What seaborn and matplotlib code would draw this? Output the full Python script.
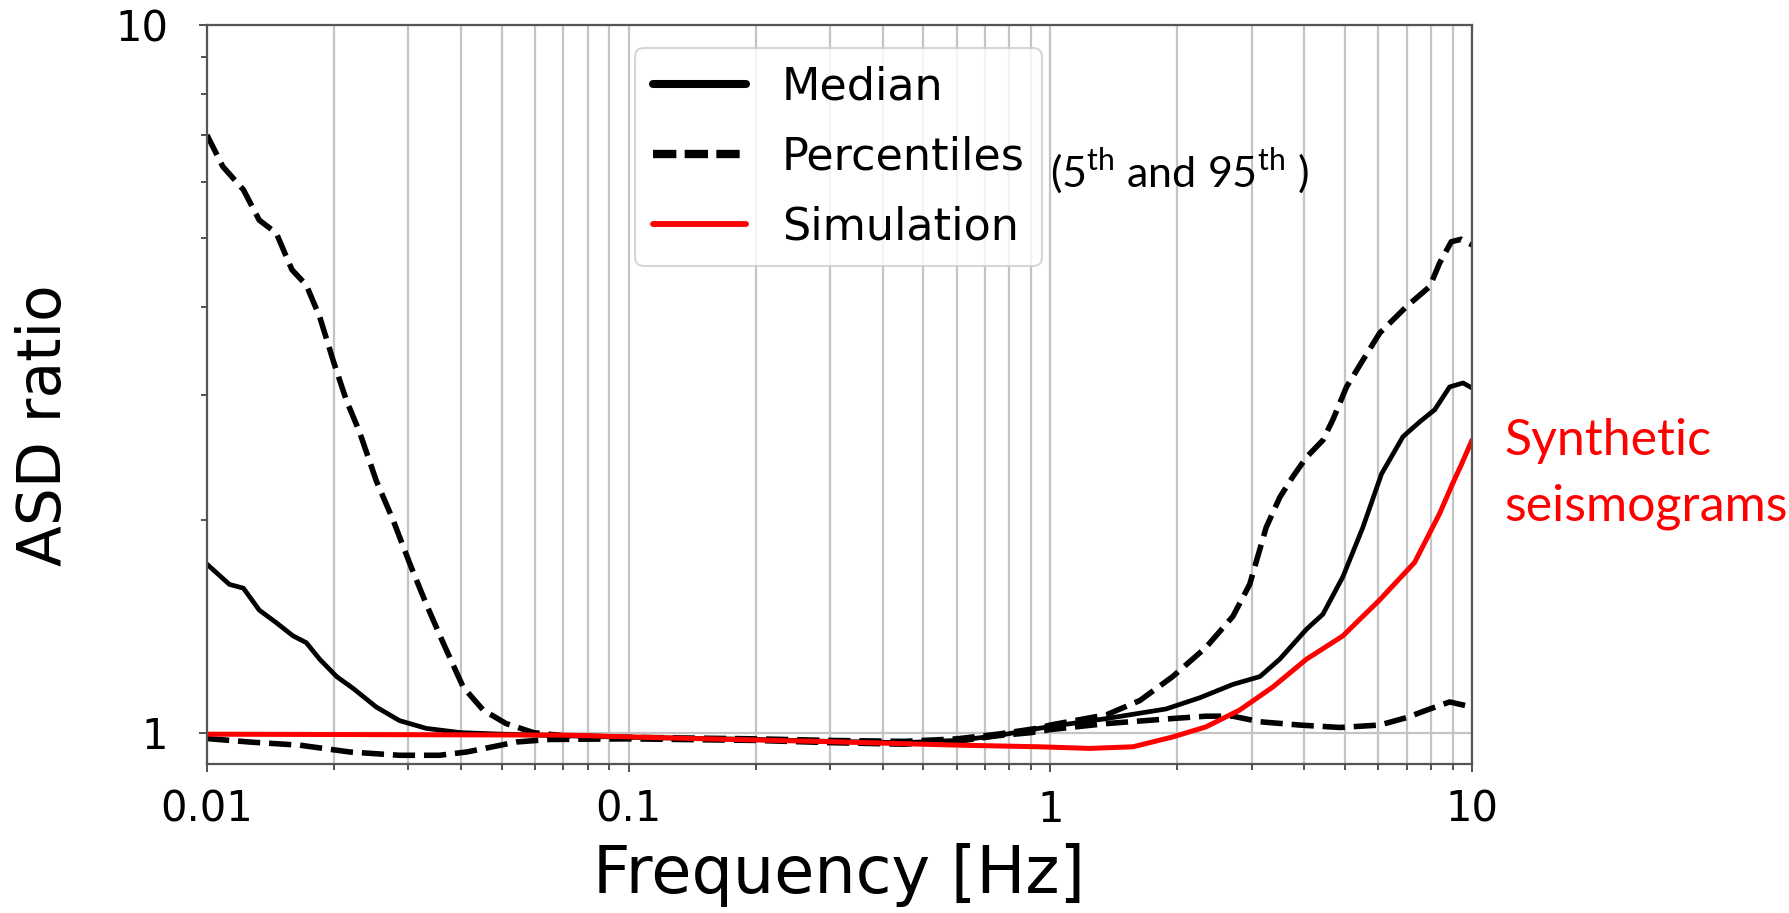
import matplotlib
matplotlib.use("Agg")
import matplotlib.pyplot as plt
import matplotlib.ticker as mticker
from matplotlib.lines import Line2D
import pandas as pd
import seaborn as sns

# ---------------- data ----------------
median_freq = [0.01, 0.0113, 0.0122, 0.0133, 0.0146, 0.016, 0.0172, 0.0185, 0.0203,
               0.0222, 0.0252, 0.0286, 0.0331, 0.040, 0.05, 0.07, 0.1, 0.2, 0.3, 0.45,
               0.6, 0.75, 0.9, 1.0, 1.36, 1.88, 2.26, 2.71, 3.14, 3.5, 4.05, 4.43,
               4.94, 5.51, 6.1, 6.86, 7.52, 8.16, 8.85, 9.52, 10.0]
median_ratio = [1.73, 1.62, 1.60, 1.49, 1.43, 1.37, 1.34, 1.27, 1.20,
                1.155, 1.087, 1.04, 1.014, 1.0, 0.995, 0.99, 0.985, 0.978, 0.972, 0.968,
                0.975, 0.99, 1.01, 1.02, 1.047, 1.08, 1.12, 1.17, 1.20, 1.27, 1.40, 1.47,
                1.66, 1.95, 2.32, 2.62, 2.75, 2.86, 3.08, 3.12, 3.07]

p95_freq = [0.01, 0.0109, 0.0122, 0.0133, 0.0146, 0.0159, 0.0172, 0.0185, 0.020,
            0.0214, 0.023, 0.0252, 0.0276, 0.0303, 0.0331, 0.0363, 0.0405, 0.0452,
            0.0512, 0.0595, 0.07, 0.1, 0.2, 0.3, 0.45, 0.6, 0.75, 0.94, 1.0, 1.36,
            1.63, 1.95, 2.34, 2.71, 2.97, 3.25, 3.5, 3.76, 4.05, 4.43, 4.68, 5.04,
            5.51, 6.04, 6.99, 7.94, 8.38, 8.93, 9.43, 10.0]
p95_ratio = [6.99, 6.31, 5.85, 5.30, 5.08, 4.51, 4.29, 3.87, 3.33,
             2.95, 2.66, 2.27, 2.0, 1.73, 1.52, 1.34, 1.16, 1.076,
             1.03, 1.0, 0.99, 0.985, 0.98, 0.975, 0.972, 0.98, 0.995, 1.015, 1.025, 1.06,
             1.11, 1.20, 1.32, 1.46, 1.62, 1.95, 2.15, 2.30, 2.45, 2.59, 2.77, 3.08,
             3.36, 3.67, 4.00, 4.27, 4.61, 4.94, 4.98, 4.89]

p5_freq = [0.01, 0.0126, 0.0166, 0.0218, 0.0286, 0.0356, 0.0413, 0.0476, 0.0541,
           0.065, 0.1, 0.2, 0.3, 0.45, 0.6, 0.75, 0.9, 1.0, 1.36, 1.95, 2.34, 2.71,
           3.14, 3.9, 4.86, 6.04, 6.99, 7.94, 8.85, 10.0]
p5_ratio = [0.981, 0.97, 0.96, 0.939, 0.929, 0.929, 0.939, 0.955, 0.97,
            0.978, 0.98, 0.975, 0.968, 0.963, 0.972, 0.99, 1.0, 1.01, 1.03, 1.047, 1.055, 1.055,
            1.036, 1.025, 1.017, 1.025, 1.05, 1.08, 1.105, 1.087]

sim_freq = [0.01, 0.07, 0.143, 0.3, 0.61, 0.943, 1.24, 1.57, 1.95, 2.34, 2.81, 3.37,
            4.05, 4.94, 6.04, 7.31, 8.38, 9.0, 9.43, 10.0]
sim_ratio = [0.995, 0.992, 0.981, 0.971, 0.96, 0.955, 0.95, 0.955, 0.986, 1.019, 1.076, 1.16,
             1.27, 1.37, 1.54, 1.74, 2.04, 2.25, 2.39, 2.59]

x_tick_values = [0.01, 0.1, 1, 10]
x_tick_labels = ["0.01", "0.1", "1", "10"]
y_tick_values = [1, 10]
y_tick_labels = ["1", "10"]
legend_labels = ["Median", "Percentiles", "Simulation"]

# ---------------- style ----------------
sns.set_style("white")
plt.rcParams["font.family"] = ["DejaVu Sans"]
plt.rcParams["text.color"] = "black"
plt.rcParams["axes.labelcolor"] = "black"
plt.rcParams["xtick.color"] = "black"
plt.rcParams["ytick.color"] = "black"

W, H = 1790, 913
fig = plt.figure(figsize=(W / 100, H / 100), dpi=100)
ax_l, ax_r, ax_t, ax_b = 207, 1472, 25, 764
ax = fig.add_axes([ax_l / W, 1 - ax_b / H, (ax_r - ax_l) / W, (ax_b - ax_t) / H])

ax.set_xscale("log")
ax.set_yscale("log")


def draw(freq, ratio, **kw):
    df = pd.DataFrame({"freq": freq, "ratio": ratio})
    sns.lineplot(data=df, x="freq", y="ratio", ax=ax, estimator=None, legend=False, **kw)


dash = (0, (4.0, 1.6))
draw(p95_freq, p95_ratio, color="black", lw=4.0, linestyle=dash)
draw(p5_freq, p5_ratio, color="black", lw=4.0, linestyle=dash)
draw(median_freq, median_ratio, color="black", lw=3.4)
draw(sim_freq, sim_ratio, color="#ff0000", lw=3.6)

ax.set_xlim(0.01, 10)
ax.set_ylim(0.903, 10)

# ticks
ax.xaxis.set_major_locator(mticker.FixedLocator(x_tick_values))
ax.xaxis.set_major_formatter(mticker.FixedFormatter(x_tick_labels))
ax.xaxis.set_minor_locator(mticker.LogLocator(base=10, subs=range(2, 10)))
ax.xaxis.set_minor_formatter(mticker.NullFormatter())
ax.yaxis.set_major_locator(mticker.FixedLocator(y_tick_values))
ax.yaxis.set_major_formatter(mticker.FixedFormatter(y_tick_labels))
ax.yaxis.set_minor_locator(mticker.LogLocator(base=10, subs=range(2, 10)))
ax.yaxis.set_minor_formatter(mticker.NullFormatter())

ax.tick_params(which="both", direction="out", color="#444444", width=1.3,
               bottom=True, left=True, top=False, right=False)
ax.tick_params(which="major", length=6)
ax.tick_params(which="minor", length=4)
ax.tick_params(axis="x", which="major", labelsize=30, pad=12, labelcolor="black")
ax.tick_params(axis="y", which="major", labelsize=30, pad=22, labelcolor="black")

# grid
ax.set_axisbelow(True)
ax.xaxis.grid(True, which="both", color="#c4c4c4", lw=1.6)
ax.yaxis.grid(True, which="major", color="#c4c4c4", lw=1.6)
ax.yaxis.grid(False, which="minor")

for s in ax.spines.values():
    s.set_visible(True)
    s.set_color("#555555")
    s.set_linewidth(1.6)

# axis labels
ax.set_xlabel("Frequency [Hz]", fontsize=47, color="black")
ax.set_ylabel("ASD ratio", fontsize=43, color="black")
ax.xaxis.set_label_coords(0.5, -(843 - ax_b) / (ax_b - ax_t))
ax.yaxis.set_label_coords((74 - ax_l) / (ax_r - ax_l), (ax_b - 425) / (ax_b - ax_t))

# legend
handles = [Line2D([], [], color="black", lw=5.8),
           Line2D([], [], color="black", lw=6.0, linestyle=(0, (2.8, 1.0))),
           Line2D([], [], color="#ff0000", lw=4.2)]
leg = ax.legend(handles, legend_labels, loc="upper left",
                bbox_to_anchor=(635 / W, 1 - 48 / H), bbox_transform=fig.transFigure,
                borderaxespad=0, fontsize=32, handlelength=2.1, labelspacing=0.6,
                frameon=True, fancybox=True, framealpha=0.8, edgecolor="#cccccc")
leg.get_frame().set_linewidth(1.5)
for t in leg.get_texts():
    t.set_color("black")

# annotations
fig.text(1050 / W, 1 - 186 / H, r"(5$^{\mathregular{th}}$ and 95$^{\mathregular{th}}$ )",
         fontsize=31, family="Lato", ha="left", va="baseline", color="black")
fig.text(1504 / W, 1 - 455 / H, "Synthetic", fontsize=36, family="Lato",
         ha="left", va="baseline", color="#ff0000")
fig.text(1504 / W, 1 - 520 / H, "seismograms", fontsize=36, family="Lato",
         ha="left", va="baseline", color="#ff0000")

fig.savefig("out.png", dpi=100)
